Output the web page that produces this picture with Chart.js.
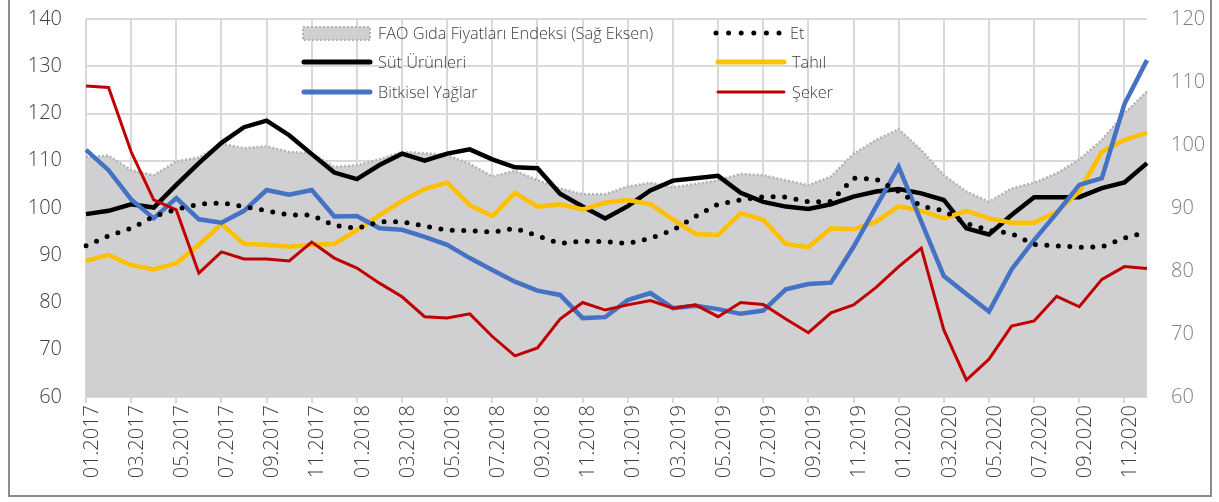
<!DOCTYPE html>
<html lang="tr">
<head>
<meta charset="utf-8">
<script src="https://cdn.jsdelivr.net/npm/chart.js@4"></script>
<style>
  html, body { margin: 0; padding: 0; background: #fff; }
  #wrap { position: relative; width: 1219px; height: 502px; overflow: hidden; font-family: "Open Sans", "Noto Sans", sans-serif; }
  #frame { position: absolute; left: 8px; top: -4px; width: 1204px; height: 501px; border: 2px solid #8c8c8c; box-sizing: border-box; pointer-events: none; }
  .lg { position: absolute; color: #404040; font-size: 16.3px; font-weight: 300; line-height: 20px; white-space: nowrap; }
  .lg svg { position: absolute; left: 0; top: 0; overflow: visible; }
  .lg span { position: absolute; top: -10px; }
</style>
</head>
<body>
<div id="wrap">
  <canvas id="chart" width="1219" height="502"></canvas>
  <div id="legend"></div>
  <div id="frame"></div>
</div>
<script>
(function () {
  "use strict";

  const months = [
    "01.2017", "02.2017", "03.2017", "04.2017", "05.2017", "06.2017",
    "07.2017", "08.2017", "09.2017", "10.2017", "11.2017", "12.2017",
    "01.2018", "02.2018", "03.2018", "04.2018", "05.2018", "06.2018",
    "07.2018", "08.2018", "09.2018", "10.2018", "11.2018", "12.2018",
    "01.2019", "02.2019", "03.2019", "04.2019", "05.2019", "06.2019",
    "07.2019", "08.2019", "09.2019", "10.2019", "11.2019", "12.2019",
    "01.2020", "02.2020", "03.2020", "04.2020", "05.2020", "06.2020",
    "07.2020", "08.2020", "09.2020", "10.2020", "11.2020", "12.2020"
  ];

  // FAO index, right axis
  const fao = [
    98.1, 98.3, 96.0, 95.2, 97.4, 98.0, 100.2, 99.5, 99.8, 98.9, 98.7, 96.5,
    96.8, 97.7, 98.9, 98.7, 98.4, 97.0, 95.0, 95.9, 94.4, 93.1, 92.2, 92.2,
    93.4, 94.0, 93.3, 93.8, 94.4, 95.4, 95.2, 94.4, 93.6, 95.0, 98.6, 100.8,
    102.5, 99.2, 95.2, 92.6, 91.0, 93.1, 94.0, 95.5, 97.7, 100.8, 105.0, 108.5
  ];

  const meat = [
    92.0, 94.1, 95.7, 98.2, 99.7, 100.8, 101.1, 100.3, 99.4, 98.5, 98.5, 96.3,
    95.7, 97.1, 97.1, 96.2, 95.3, 95.2, 94.9, 95.7, 94.1, 92.5, 93.0, 92.9,
    92.5, 93.6, 95.3, 98.2, 100.8, 101.7, 102.4, 102.3, 101.3, 101.4, 106.3, 106.1,
    103.5, 100.4, 99.4, 96.7, 95.3, 94.6, 92.3, 92.0, 91.7, 91.8, 93.6, 95.0
  ];

  const dairy = [
    98.7, 99.4, 100.8, 100.1, 104.9, 109.5, 113.8, 117.1, 118.5, 115.4, 111.4, 107.5,
    106.1, 109.1, 111.5, 110.0, 111.5, 112.4, 110.3, 108.6, 108.4, 103.0, 100.3, 97.8,
    100.4, 103.7, 105.8, 106.3, 106.8, 103.2, 101.3, 100.3, 99.8, 100.8, 102.4, 103.5,
    104.0, 103.1, 101.7, 95.7, 94.4, 98.5, 102.3, 102.3, 102.3, 104.2, 105.4, 109.5
  ];

  const cereals = [
    88.8, 90.1, 87.9, 87.0, 88.3, 92.2, 96.6, 92.4, 92.2, 91.8, 92.2, 92.4,
    95.3, 98.5, 101.5, 104.0, 105.4, 100.6, 98.3, 103.2, 100.3, 100.8, 99.7, 101.1,
    101.7, 100.8, 97.6, 94.5, 94.3, 98.9, 97.5, 92.4, 91.7, 95.7, 95.5, 97.1,
    100.4, 99.4, 97.8, 99.4, 97.8, 96.9, 96.9, 99.2, 103.5, 111.9, 114.4, 115.9
  ];

  const oils = [
    112.3, 108.0, 101.8, 97.8, 102.1, 97.6, 96.9, 99.4, 103.8, 102.8, 103.8, 98.2,
    98.3, 95.7, 95.4, 93.9, 92.2, 89.4, 86.9, 84.4, 82.5, 81.6, 76.7, 76.9,
    80.5, 82.0, 78.8, 79.3, 78.6, 77.6, 78.3, 82.8, 83.9, 84.2, 91.8, 100.3,
    108.7, 97.1, 85.6, 81.8, 78.1, 87.0, 93.2, 98.9, 104.9, 106.3, 122.0, 131.3
  ];

  const sugar = [
    125.8, 125.5, 111.9, 101.7, 99.6, 86.2, 90.7, 89.2, 89.2, 88.8, 92.8, 89.4,
    87.3, 84.1, 81.2, 77.0, 76.7, 77.6, 72.8, 68.7, 70.4, 76.5, 80.0, 78.4,
    79.5, 80.4, 78.8, 79.5, 77.0, 80.0, 79.6, 76.5, 73.6, 77.8, 79.5, 83.2,
    87.6, 91.5, 74.2, 63.6, 68.0, 75.0, 76.1, 81.3, 79.1, 84.9, 87.6, 87.2
  ];

  const leftTicks = { min: 60, max: 140, step: 10 };
  const rightTicks = { min: 60, max: 120, step: 10 };

  const GRID = "#d9d9d9";
  const TEXT = "#404040";
  const FONT = "'Open Sans', 'Noto Sans', sans-serif";

  const legendItems = [
    { label: "FAO Gıda Fiyatları Endeksi (Sağ Eksen)", kind: "area", x: 302, y: 33 },
    { label: "Et", kind: "dots", color: "#000", x: 716, y: 33 },
    { label: "Süt Ürünleri", kind: "line", color: "#000", width: 5, x: 302, y: 62 },
    { label: "Tahıl", kind: "line", color: "#ffc000", width: 5, x: 716, y: 62 },
    { label: "Bitkisel Yağlar", kind: "line", color: "#4472c4", width: 5, x: 302, y: 92 },
    { label: "Şeker", kind: "line", color: "#c00000", width: 3, x: 716, y: 92 }
  ];

  function renderLegend() {
    const host = document.getElementById("legend");
    host.innerHTML = legendItems.map(item => {
      let sample = "";
      if (item.kind === "area") {
        sample = `<rect x="1" y="-6" width="67" height="13" fill="#d0cfd1" stroke="#b3b3b3" stroke-width="2" stroke-dasharray="2 2"/>`;
      } else if (item.kind === "dots") {
        sample = `<line x1="0" y1="0" x2="64" y2="0" stroke="${item.color}" stroke-width="5" stroke-linecap="round" stroke-dasharray="0 12.6"/>`;
      } else {
        sample = `<line x1="2" y1="0" x2="68" y2="0" stroke="${item.color}" stroke-width="${item.width}" stroke-linecap="round"/>`;
      }
      const textLeft = item.kind === "dots" ? 74 : 76;
      return `<div class="lg" style="left:${item.x}px;top:${item.y}px">
        <svg width="1" height="1">${sample}</svg>
        <span style="left:${textLeft}px">${item.label}</span>
      </div>`;
    }).join("");
  }

  const evenOnly = (color) => (ctx) => (ctx.index % 2 === 0 ? color : "rgba(0,0,0,0)");

  // fixed axis sizes so the plot box lines up with the original
  function fixWidth(width) {
    return (scale) => {
      scale.width = width;
      scale.paddingTop = 0;
      scale.paddingBottom = 0;
    };
  }

  function renderChart() {
    const canvas = document.getElementById("chart");

    new Chart(canvas, {
      type: "line",
      data: {
        labels: months,
        datasets: [
          {
            label: "Et",
            data: meat,
            yAxisID: "y",
            borderColor: "#000",
            borderWidth: 5,
            borderDash: [0, 11.5],
            borderCapStyle: "round",
            pointRadius: 0,
            tension: 0,
            fill: false
          },
          {
            label: "Şeker",
            data: sugar,
            yAxisID: "y",
            borderColor: "#c00000",
            borderWidth: 3,
            pointRadius: 0,
            tension: 0,
            fill: false
          },
          {
            label: "Bitkisel Yağlar",
            data: oils,
            yAxisID: "y",
            borderColor: "#4472c4",
            borderWidth: 4.5,
            pointRadius: 0,
            tension: 0,
            fill: false
          },
          {
            label: "Tahıl",
            data: cereals,
            yAxisID: "y",
            borderColor: "#ffc000",
            borderWidth: 4.5,
            pointRadius: 0,
            tension: 0,
            fill: false
          },
          {
            label: "Süt Ürünleri",
            data: dairy,
            yAxisID: "y",
            borderColor: "#000",
            borderWidth: 4.5,
            pointRadius: 0,
            tension: 0,
            fill: false
          },
          {
            label: "FAO Gıda Fiyatları Endeksi (Sağ Eksen)",
            data: fao,
            yAxisID: "y2",
            borderColor: "#b3b3b3",
            borderWidth: 2.5,
            borderDash: [2, 2],
            backgroundColor: "#d0cfd1",
            pointRadius: 0,
            tension: 0,
            fill: "start"
          }
        ]
      },
      options: {
        responsive: false,
        animation: false,
        events: [],
        layout: { padding: { left: 10, right: 10, top: 19, bottom: 10 } },
        plugins: {
          legend: { display: false },
          tooltip: { enabled: false }
        },
        scales: {
          x: {
            offset: false,
            border: { display: false },
            grid: {
              color: evenOnly(GRID),
              tickColor: evenOnly(GRID),
              lineWidth: 2,
              tickLength: 6,
              drawTicks: true
            },
            ticks: {
              autoSkip: false,
              minRotation: 90,
              maxRotation: 90,
              padding: 2,
              labelOffset: 6,
              color: TEXT,
              font: { family: FONT, size: 20, weight: 300 },
              callback: (value, index) => (index % 2 === 0 ? months[index] : "")
            },
            afterFit: (scale) => {
              scale.height = 95;
              scale.paddingLeft = 0;
              scale.paddingRight = 0;
            }
          },
          y: {
            position: "left",
            min: leftTicks.min,
            max: leftTicks.max,
            border: { display: false },
            grid: { color: GRID, lineWidth: 2, drawTicks: false },
            ticks: {
              stepSize: leftTicks.step,
              padding: 24,
              color: TEXT,
              font: { family: FONT, size: 20, weight: 300 }
            },
            afterFit: fixWidth(76)
          },
          y2: {
            position: "right",
            min: rightTicks.min,
            max: rightTicks.max,
            border: { display: false },
            grid: { display: false, drawTicks: false },
            ticks: {
              stepSize: rightTicks.step,
              padding: 24,
              color: "#808080",
              font: { family: FONT, size: 20, weight: 300 }
            },
            afterFit: fixWidth(62)
          }
        }
      }
    });
  }

  renderLegend();
  renderChart();
})();
</script>
</body>
</html>
